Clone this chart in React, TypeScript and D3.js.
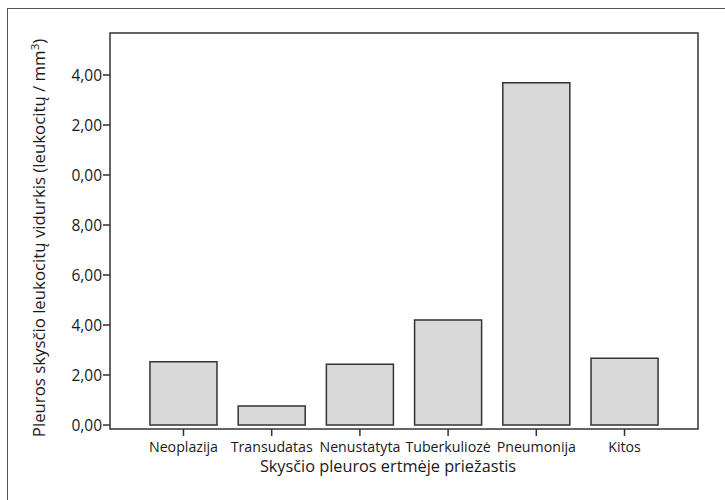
import React from 'react';
import * as d3 from 'd3';

const categories = ['Neoplazija', 'Transudatas', 'Nenustatyta', 'Tuberkuliozė', 'Pneumonija', 'Kitos'];
const means = [2.53, 0.76, 2.43, 4.2, 13.69, 2.67];
const yTickValues = [0, 2, 4, 6, 8, 10, 12, 14];
// labels as printed in the source (leading "1" is cut off)
const yTickLabels = ['0,00', '2,00', '4,00', '6,00', '8,00', '0,00', '2,00', '4,00'];

const W = 725;
const H = 500;
const frame = { left: 110, top: 33, right: 698, bottom: 429 };
const font = '"Open Sans", sans-serif';
const ink = '#333';
const textInk = '#1a1a1a';

const App = () => {
  const x = d3.scalePoint<string>()
    .domain(categories)
    .range([frame.left, frame.right])
    .padding(0.833);
  const step = x.step();
  const barW = step * 0.76;

  const y = d3.scaleLinear()
    .domain([0, 15.68])
    .range([425, frame.top]);

  return (
    <svg width={W} height={H} style={{ position: 'absolute', left: 0, top: 0 }}>
      <rect x={0} y={0} width={W} height={H} fill="#fff" />
      {/* outer box */}
      <rect x={7.5} y={8.5} width={W} height={H} fill="none" stroke="#555" strokeWidth={1} />

      {/* bars */}
      {categories.map((c, i) => (
        <rect
          key={c}
          x={(x(c) as number) - barW / 2}
          y={y(means[i])}
          width={barW}
          height={y(0) - y(means[i])}
          fill="#d9d9d9"
          stroke={ink}
          strokeWidth={1.5}
        />
      ))}

      {/* plot frame */}
      <rect
        x={frame.left}
        y={frame.top}
        width={frame.right - frame.left}
        height={frame.bottom - frame.top}
        fill="none"
        stroke={ink}
        strokeWidth={1.5}
      />

      {/* y axis ticks */}
      {yTickValues.map((v, i) => (
        <g key={i} transform={`translate(0,${y(v)})`}>
          <line x1={frame.left - 7} x2={frame.left} y1={0} y2={0} stroke={ink} strokeWidth={1.5} />
          <text x={frame.left - 8} y={0} dy="0.36em" textAnchor="end" fontFamily={font} fontSize={15.5} fill={textInk}>
            {yTickLabels[i]}
          </text>
        </g>
      ))}

      {/* x axis ticks */}
      {categories.map(c => (
        <g key={c} transform={`translate(${x(c)},${frame.bottom})`}>
          <line x1={0} x2={0} y1={0} y2={7} stroke={ink} strokeWidth={1.5} />
          <text x={0} y={23} textAnchor="middle" fontFamily={font} fontSize={14.2} fill={textInk}>
            {c}
          </text>
        </g>
      ))}

      {/* axis titles */}
      <text x={388} y={472} textAnchor="middle" fontFamily={font} fontSize={16.3} fill={textInk}>
        Skysčio pleuros ertmėje priežastis
      </text>
      <text
        transform={`translate(45,238) rotate(-90)`}
        textAnchor="middle"
        fontFamily={font}
        fontSize={16.8}
        fill={textInk}
      >
        Pleuros skysčio leukocitų vidurkis (leukocitų / mm<tspan dy="-6" fontSize={11.5}>3</tspan><tspan dy="6">)</tspan>
      </text>
    </svg>
  );
};

export default App;
